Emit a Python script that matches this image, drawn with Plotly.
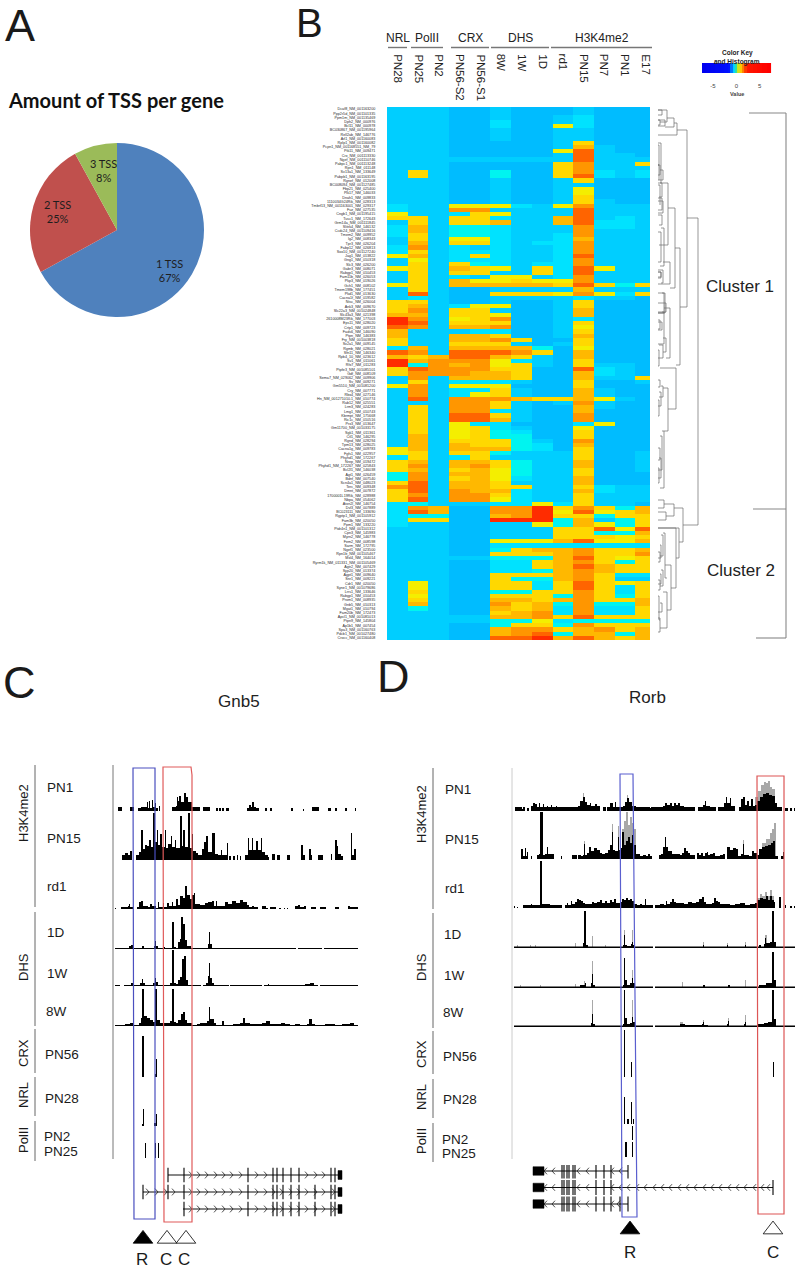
"""Four panel TSS figure: pie, clustered heatmap and two genome browser views."""

import plotly.graph_objects as go

W, H = 798, 1268
FONT = "Liberation Sans"

# Panel A
PIE_LABELS = ["1 TSS", "2 TSS", "3 TSS"]
PIE_VALUES = [67, 25, 8]
PIE_COLORS = ["#4F81BD", "#C0504D", "#9BBB59"]

# Panel B, heatmap levels, one string per row, one digit per column
HEAT_COLUMNS = ["PN28", "PN25", "PN2", "PN56-S2", "PN56-S1", "8W", "1W", "1D",
                "rd1", "PN15", "PN7", "PN1", "E17"]
HEAT_GROUPS = ["NRL", "PolII", "CRX", "DHS", "H3K4me2"]
HEAT_ROWS = [
    "1110010001000", "1110010001000", "1110010012000", "1110020012000", "1110020042000",
    "1110010011000", "1110010011000", "1110010011000", "1110000015000", "1110000016100",
    "1110000048100", "1110000018110", "1111111118111", "1110000057115", "1110000057111",
    "1510030057212", "1510030058212", "1110010015000", "1110010011000", "1110010014000",
    "1110010014000", "1110010015000", "1110010015100", "2114442147111", "2117711118111",
    "4112541118111", "5515521168121", "1515561168221", "2613321117221", "2613321117111",
    "2513321127111", "1514421126111", "1615521227111", "2712121127111", "2512221127111",
    "4612521128111", "1412221127111", "1515321227111", "4516541528411", "1515511528111",
    "1512144127111", "1516445447111", "4516666658535", "1510011116111", "1810055547425",
    "1210011112110", "5510010015000", "5612440015000", "5715510016000", "6615540016000",
    "9714570012000", "9815550015000", "8716670014000", "6111220015000", "6116650016000",
    "5116675005000", "5115551015000", "2616666304000", "8718887506000", "6568865106000",
    "9677742105000", "9376745105110", "5877755008210", "5777665006210", "1716665006115",
    "1512221005001", "4714440005000", "1712251006100", "1712451006100", "1817776556410",
    "1117751017100", "1517751006100", "1517721006000", "1518851007000", "1518861007000",
    "1514220002400", "1514521004000", "1514532005000", "1614533005000", "1615553107000",
    "1616553206000", "4616663205000", "4515531115001", "2512511115001", "5616653116001",
    "5716753116001", "5615643115001", "3716643115000", "3715642116000", "5816651116000",
    "7816655115211", "5817662116211", "5717752115111", "5817742115111", "2311122425110",
    "2760077957536", "2860077948456", "2330067955355", "2550099936135", "2110011436435",
    "1110011155848", "1110011155336", "1110011155545", "1110044468446", "1110022222222",
    "1110035667556", "1110055567557", "1111133368545", "1110022567535", "1110022568655",
    "1110022367655", "1110055567522", "1110053367511", "1410055258545", "1410055258525",
    "1510033557525", "1410055537535", "1510066567556", "1610075637336", "1310065627225",
    "1110056727225", "1111166758555", "1111133423333", "1110035537555", "1110067756756",
    "1110067836636", "1110088968656",
]
HEAT_COLORS = ["#00BCFF", "#00CEFF", "#00E2FF", "#00F4F0", "#F4EE00",
               "#FFD800", "#FFB800", "#FF9600", "#FF6400", "#FF2C00"]
GENE_LABELS = [
    "Dcaf8_NM_001163200", "Ppp2r5d_NM_001101335", "Ppm1m_NM_001135469", "Dph2_NM_000976", "Bcl11_NM_000978",
    "BC030867_NM_001195964", "Rell2ab_NM_146776", "Arl1_NM_001160083", "Rplp1_NM_001160082", "Pcpn1_NM_001168551_NM_79",
    "Ptk11_NM_009471", "Crx_NM_001113330", "Ngef_NM_001110746", "Pabpc1_NM_001113248", "Rpn1_NM_011148",
    "Sv13a1_NM_133649", "Pabpb1_NM_001163195", "Rgnef_NM_012008", "BC008094_NM_001127485", "Fbp21_NM_025400",
    "Plk17_NM_146033", "Dnah1_NM_009833", "1110034G24Rik_NM_028313", "Tmbrf13_NM_001163001_NM_029317", "Fuz_NM_027535",
    "Cngb1_NM_001195415", "Tusc1_NM_172643", "Grm14a_NM_001111845", "Slitrk4_NM_146132", "Ccdc24_NM_001109416",
    "Tmem2_NM_009952", "Ig2_NM_008343", "Tpr3_NM_026204", "Fabp12_NM_026813", "Sox10_NM_001127240",
    "Jag1_NM_013822", "Gng1_NM_010318", "Slc3_NM_026200", "Gabr3_NM_008071", "Rabgp1_NM_010453",
    "Fam11b_NM_026053", "Pkp3_NM_019026", "Gch1_NM_008102", "Tmem198b_NM_177451", "Pkd1_NM_013630",
    "Cacna1f_NM_019582", "Ntsc_NM_026004", "Ank3_NM_009670", "Slc22a3_NM_001024848", "Slc43a3_NM_021398",
    "2610008M23Rik_NM_177003", "Eps11_NM_028020", "Crtp1_NM_009723", "Fads6_NM_146090", "Ptpn_NM_146383",
    "Fry_NM_001003818", "Sv2a1_NM_009145", "Rgmb_NM_028021", "Sfn11_NM_146340", "Rpb4_10_NM_023612",
    "Sv1_NM_011061", "Rfx7_NM_011283", "Ptpfe3_NM_001085101", "Gdf_NM_008109", "Sema7_NM_029062_NM_009906",
    "Sv_NM_009271", "Gm5510_NM_001081200", "Cry_NM_007771", "Rbx4_NM_027146", "Hn_NM_001271010.1_NM_010774",
    "Rab12_NM_025551", "Lrm3_NM_024283", "Lmg1_NM_010743", "Kbrmpt_NM_175668", "Ric1c_NM_010516",
    "Prx3_NM_013647", "Gm11700_NM_001033175", "Sgk1_NM_011361", "Ctl1_NM_146295", "Rgnd_NM_028294",
    "Tpm13_NM_028025", "Cacna1g_NM_009783", "Fgfs1_NM_022957", "Phyhd1_NM_172267", "Nrep_NM_019472",
    "Phyhd1_NM_172267_NM_025843", "Bcl2l1_NM_146038", "Agt1_NM_026459", "Bdnf_NM_007540", "Scn4a1_NM_048023",
    "Terc_NM_009348", "Dmnt_NM_007872", "1700001L19Rik_NM_028988", "Nbpa_NM_054062", "Atxn2l_NM_146754",
    "Dvl3_NM_007889", "BC023111_NM_133690", "Rgptp1_NM_001105912", "Fam3b_NM_020050", "Ppm1_NM_133220",
    "Ptdr4n1_NM_001101312", "Cpn3_NM_145983", "Myrn2_NM_146778", "Fem2_NM_008598", "Sarm_NM_172795",
    "Ngef1_NM_023500", "Rpn1b_NM_001105467", "Mxl4_NM_164014", "Ryrm1k_NM_011331_NM_001105469", "Agtr2_NM_007429",
    "Syp20_NM_013374", "Agpt1_NM_009640", "Snr1_NM_009221", "Cdr1_NM_020050", "Syne1_NM_001079686",
    "Lrrs1_NM_133646", "Rabgp1_NM_010453", "Prom1_NM_008935", "Gnb5_NM_010313", "Mgat1_NM_010794",
    "Fam20b_NM_172473", "Apcl1_NM_001081013", "Ptpn9_NM_145804", "Ap1b1_NM_007454", "Spa3_NM_001160763",
    "Pdcb1_NM_001027480", "Crocc_NM_001160408",
]
GROUP_LINE_EDGES = [(388, 407), (411, 443), (451, 489), (491, 549), (551, 652)]

# Colour key
KEY_VALUES = [-7, -6, -5, -4, -3, -2, -1.5, -1, -0.5, 0, 0.5, 1, 1.5, 2, 2.5, 3, 4, 5, 6, 7]
KEY_SCALE = [[0, "#0000F0"], [0.39, "#0010FF"], [0.43, "#0078FF"], [0.465, "#00D8FF"],
             [0.5, "#30E0A0"], [0.53, "#C8E820"], [0.57, "#FFC800"], [0.61, "#FF7800"],
             [0.66, "#FF1800"], [1, "#FF0000"]]

# Dendrogram brackets: bar position, span, child ends
DEND_BAR = [698, 687, 680, 675, 677, 674, 667, 665, 668, 661, 659, 660, 662, 670, 663, 661, 664, 666, 660, 670,
            664, 662, 666, 663, 659, 676, 668, 664, 662, 660, 661, 659, 663, 661, 659,
            683, 674, 664, 666, 679, 676, 671, 665, 667, 663, 661, 660, 663, 661, 660, 659, 662, 660,
            662, 660, 659, 660, 663, 662, 663, 662, 664, 661, 661, 665, 660]
DEND_TOP = [218, 130, 248, 208, 123, 118, 110, 120, 183, 143, 165, 185, 198, 262, 270, 272, 293, 303, 320, 308,
            312, 322, 338, 345, 350, 368, 388, 431, 436, 448, 458, 468, 386, 392, 400,
            508, 504, 500, 512, 528, 528, 565, 533, 592, 535, 545, 552, 570, 574, 580, 596, 603, 618,
            110, 120, 145, 165, 170, 183, 201, 215, 228, 232, 272, 293, 380]
DEND_BOT = [525, 307, 365, 288, 135, 127, 122, 126, 245, 183, 180, 205, 210, 284, 283, 278, 313, 312, 329, 358,
            344, 330, 352, 358, 366, 409, 431, 488, 470, 460, 478, 483, 397, 406, 416,
            542, 516, 508, 520, 558, 588, 610, 578, 628, 556, 558, 562, 586, 584, 590, 620, 612, 632,
            115, 125, 165, 175, 180, 197, 213, 225, 266, 262, 277, 313, 387]
DEND_CHILD_TOP = [687, 677, 675, 668, 674, 667, 658, 658, 661, 658, 658, 658, 658, 663, 658, 658, 658, 658, 658, 664,
                  662, 658, 663, 659, 658, 660, 663, 662, 660, 658, 659, 658, 661, 659, 658,
                  674, 664, 658, 658, 658, 658, 665, 663, 663, 661, 660, 658, 661, 660, 658, 658, 660, 658,
                  658, 658, 658, 658, 660, 658, 658, 658, 661, 658, 658, 662, 658]
DEND_CHILD_BOT = [683, 680, 676, 670, 658, 665, 660, 658, 659, 660, 659, 660, 658, 658, 661, 658, 658, 658, 658, 666,
                  658, 658, 663, 658, 658, 668, 664, 660, 658, 658, 658, 658, 659, 658, 658,
                  679, 666, 658, 658, 676, 671, 667, 667, 660, 660, 658, 658, 660, 658, 658, 660, 658, 658,
                  658, 658, 658, 658, 658, 659, 658, 659, 660, 658, 658, 658, 658]

# Panel C tracks: breakpoints along the gene and signal height from each one on
C_PN1_X = [118, 122, 130, 134, 138, 141, 146, 147, 148, 149, 150, 152, 153, 155, 156, 158, 159, 160,
           172, 176, 177, 178, 179, 181, 184, 186, 188, 192, 200, 203, 210, 216, 218, 219, 221, 222, 224, 226, 229,
           247, 249, 251, 252, 254, 256, 259, 265, 267, 270, 272, 291, 293, 303, 304, 312, 319, 328, 331, 335, 337,
           345, 347, 355, 356]
C_PN1_H = [4, 0, 4, 0, 3, 4, 4, 9, 3, 10, 3, 11, 4, 8, 3, 0, 5, 0,
           4, 5, 14, 10, 15, 9, 18, 14, 9, 4, 0, 4, 0, 3, 0, 3, 0, 3, 0, 3, 0,
           3, 6, 4, 9, 4, 3, 0, 3, 0, 3, 0, 3, 0, 2, 0, 4, 0, 3, 0, 3, 0,
           3, 0, 3, 0]
C_PN15_X = [122, 125, 128, 130, 132, 136, 139, 141, 143, 145, 147, 149, 151, 153, 155, 157, 158, 160, 162, 165, 166,
            168, 171, 172, 175, 176, 180, 182, 183, 185, 188, 190, 192, 193, 196, 198, 202, 204, 206, 208, 212, 215,
            218, 221, 222, 226, 227, 228, 229, 231, 233, 235, 237, 238, 240, 241, 245, 248, 249, 252, 253, 256, 258,
            261, 262, 265, 268, 269, 272, 275, 277, 280, 287, 290, 301, 303, 305, 309, 311, 312, 318, 323, 331, 332,
            335, 337, 338, 341, 343, 351, 352, 354, 356]
C_PN15_H = [5, 7, 5, 9, 0, 5, 8, 30, 11, 15, 14, 20, 13, 47, 18, 30, 15, 26, 13, 30, 12,
            16, 24, 13, 20, 12, 44, 14, 30, 13, 47, 12, 26, 9, 7, 5, 11, 18, 24, 8, 27, 6,
            5, 10, 5, 5, 17, 0, 4, 0, 4, 0, 5, 0, 4, 0, 5, 22, 10, 22, 10, 19, 10,
            22, 8, 5, 3, 0, 6, 0, 5, 0, 5, 0, 15, 5, 0, 11, 5, 0, 5, 0, 6, 0,
            20, 14, 6, 4, 0, 27, 5, 11, 0]
C_RD1_X = [115, 116, 121, 128, 129, 130, 133, 137, 139, 141, 143, 148, 150, 152, 156, 158, 159, 163, 164, 167, 169,
           172, 173, 176, 178, 180, 183, 185, 187, 190, 192, 194, 195, 200, 205, 208, 212, 214, 216, 217, 225, 228,
           232, 236, 240, 243, 247, 249, 252, 254, 258, 262, 266, 268, 270, 276, 279, 281, 284, 285, 287, 288, 295,
           298, 300, 304, 306, 311, 316, 320, 326, 335, 339, 348, 350, 358]
C_RD1_H = [1, 0, 2, 3, 5, 2, 0, 2, 7, 8, 3, 2, 5, 3, 1, 7, 2, 6, 2, 6, 3,
           7, 3, 10, 4, 13, 11, 23, 14, 10, 14, 16, 5, 4, 6, 7, 8, 3, 8, 3, 7, 5,
           8, 6, 9, 7, 4, 2, 3, 2, 0, 3, 1, 0, 2, 0, 1, 0, 1, 0, 1, 0, 3,
           4, 2, 3, 0, 2, 0, 2, 0, 2, 0, 3, 2, 0]
C_1D_X = [115, 129, 131, 133, 142, 144, 154, 155, 156, 158, 163, 165, 172, 174, 176, 178, 180, 181, 183, 185, 187,
          191, 208, 209, 210, 212, 296, 298, 322, 324, 358]
C_1D_H = [1, 3, 4, 1, 3, 1, 3, 8, 3, 1, 2, 1, 27, 2, 1, 7, 10, 32, 25, 9, 3,
          1, 5, 17, 5, 1, 0, 1, 0, 1, 0]
C_1W_X = [115, 120, 124, 131, 133, 140, 142, 143, 145, 153, 155, 156, 158, 170, 172, 174, 176, 178, 180, 182, 184,
          186, 188, 201, 203, 206, 208, 209, 210, 212, 214, 229, 230, 262, 264, 268, 269, 305, 310, 314, 318, 320, 358]
C_1W_H = [1, 0, 1, 3, 1, 3, 7, 3, 1, 3, 8, 4, 1, 3, 36, 3, 2, 6, 9, 27, 30,
          6, 1, 0, 1, 3, 10, 23, 8, 3, 1, 0, 1, 0, 1, 2, 1, 2, 3, 1, 0, 1, 0]
C_8W_X = [115, 125, 130, 133, 139, 141, 142, 144, 147, 150, 153, 155, 157, 160, 166, 170, 172, 174, 176, 178, 181,
          183, 185, 187, 192, 197, 200, 205, 207, 209, 210, 214, 216, 222, 224, 230, 233, 240, 243, 245, 250, 262,
          266, 270, 280, 281, 285, 290, 295, 300, 307, 309, 312, 315, 325, 335, 342, 350, 354, 358]
C_8W_H = [1, 2, 3, 1, 3, 8, 37, 10, 8, 6, 4, 37, 6, 3, 3, 5, 37, 4, 3, 6, 12,
          14, 6, 3, 1, 2, 3, 3, 5, 19, 7, 3, 1, 5, 1, 1, 2, 3, 8, 3, 2, 3,
          5, 2, 2, 3, 2, 1, 2, 1, 2, 7, 2, 1, 2, 1, 2, 3, 1, 0]
C_CRX_X = [142, 144, 155, 156, 157]
C_CRX_H = [41, 0, 3, 18, 0]
C_NRL_X = [142, 143, 144, 154, 156, 157]
C_NRL_H = [2, 17, 0, 3, 12, 0]
C_POL_X = [145, 146, 155, 156, 158, 159]
C_POL_H = [15, 0, 15, 0, 15, 0]

# Panel D tracks, black signal and the paler tips above it
D_PN1_X = [515, 522, 523, 525, 527, 529, 531, 533, 535, 537, 539, 540, 543, 544, 547, 548, 551, 552, 556, 557, 562,
           576, 578, 580, 583, 585, 587, 590, 591, 595, 597, 600, 603, 606, 607, 610, 613, 615, 616, 623, 625, 627,
           629, 632, 636, 650, 651, 663, 665, 667, 670, 672, 674, 676, 678, 680, 684, 695, 698, 703, 705, 706, 710,
           716, 718, 722, 724, 726, 727, 730, 731, 735, 739, 741, 743, 745, 747, 749, 751, 753, 755, 757, 760, 763,
           766, 769, 772, 775, 777, 782, 785, 788, 790, 792, 794, 795]
D_PN1_H = [4, 2, 4, 0, 3, 0, 5, 8, 7, 4, 8, 4, 7, 4, 5, 4, 6, 4, 5, 4, 4,
           4, 5, 10, 14, 9, 6, 8, 5, 7, 5, 0, 4, 0, 4, 8, 4, 9, 4, 5, 9, 13,
           9, 5, 4, 3, 4, 5, 8, 6, 8, 5, 8, 6, 8, 5, 4, 0, 4, 6, 10, 5, 4,
           0, 4, 4, 8, 14, 8, 13, 5, 0, 4, 12, 14, 6, 10, 5, 12, 5, 6, 10, 14, 17,
           18, 16, 15, 8, 4, 0, 3, 0, 3, 0, 3, 0]
D_PN1_TIP_X = [583, 584, 627, 628, 755, 758, 761, 764, 766, 768, 770, 772, 775]
D_PN1_TIP_H = [18, 0, 16, 0, 14, 20, 26, 29, 28, 30, 24, 22, 0]
D_PN15_X = [521, 523, 525, 526, 527, 528, 531, 532, 537, 539, 540, 542, 543, 545, 547, 548, 551, 554, 561, 562, 572,
            577, 578, 581, 583, 584, 585, 587, 589, 591, 594, 597, 600, 602, 605, 608, 610, 612, 613, 615, 618, 619,
            621, 622, 624, 626, 628, 630, 632, 634, 636, 640, 643, 646, 648, 650, 652, 659, 661, 663, 665, 666, 668,
            672, 676, 680, 682, 684, 686, 688, 690, 693, 695, 697, 699, 701, 703, 705, 707, 708, 710, 713, 715, 720,
            723, 725, 727, 730, 733, 736, 738, 741, 743, 744, 749, 752, 754, 757, 759, 762, 765, 768, 771, 773, 775,
            778, 781, 783, 784]
D_PN15_H = [10, 3, 11, 3, 7, 0, 3, 0, 4, 5, 47, 47, 4, 5, 12, 5, 5, 0, 3, 0, 4,
            0, 4, 3, 4, 15, 4, 6, 12, 8, 11, 9, 6, 5, 6, 9, 14, 27, 9, 8, 22, 9,
            11, 27, 14, 18, 22, 16, 24, 14, 5, 3, 4, 3, 5, 3, 0, 4, 5, 12, 22, 12, 8,
            5, 5, 4, 6, 11, 8, 6, 4, 4, 0, 6, 4, 6, 3, 6, 7, 4, 5, 6, 3, 4,
            5, 0, 12, 9, 11, 10, 3, 5, 15, 4, 3, 8, 6, 4, 10, 12, 13, 14, 16, 18, 3,
            0, 3, 7, 0]
D_PN15_TIP_X = [584, 585, 612, 613, 618, 619, 622, 624, 626, 628, 630, 632, 634, 636, 743, 744, 762, 766, 770, 772, 774, 776]
D_PN15_TIP_H = [18, 0, 35, 0, 33, 0, 30, 38, 47, 34, 42, 36, 30, 0, 19, 0, 16, 20, 26, 30, 36, 0]
D_RD1_X = [514, 515, 517, 518, 523, 531, 532, 540, 542, 550, 562, 565, 567, 568, 571, 572, 575, 577, 579, 581, 583,
           585, 590, 592, 594, 597, 600, 602, 605, 607, 610, 612, 614, 616, 620, 622, 624, 626, 628, 630, 632, 634,
           637, 640, 642, 645, 646, 650, 653, 655, 660, 664, 666, 667, 670, 672, 674, 676, 680, 684, 688, 692, 696,
           699, 702, 704, 706, 712, 714, 716, 718, 720, 725, 730, 735, 740, 745, 750, 755, 757, 760, 763, 766, 768,
           770, 772, 774, 775, 779, 781, 785, 786, 790, 792, 794, 795]
D_RD1_H = [2, 0, 1, 0, 3, 4, 3, 47, 4, 3, 0, 3, 5, 3, 7, 4, 6, 9, 8, 7, 5,
           4, 4, 6, 5, 6, 8, 5, 7, 5, 8, 6, 9, 5, 6, 9, 8, 10, 8, 9, 7, 4,
           3, 4, 3, 9, 3, 3, 0, 3, 4, 3, 7, 4, 6, 9, 6, 5, 5, 4, 6, 5, 6,
           9, 11, 6, 4, 5, 10, 7, 6, 4, 4, 3, 4, 5, 3, 4, 5, 8, 10, 9, 12, 8,
           12, 8, 6, 0, 11, 0, 3, 0, 2, 0, 2, 0]
D_RD1_TIP_X = [757, 760, 762, 765, 767, 770, 772, 774]
D_RD1_TIP_H = [10, 14, 12, 16, 12, 18, 12, 0]
D_1D_X = [514, 583, 584, 586, 588, 623, 624, 625, 627, 631, 632, 633, 635, 653, 655, 703, 704, 727, 728, 745, 746,
          759, 761, 764, 765, 766, 770, 772, 774, 776, 795]
D_1D_H = [1.5, 5, 37, 3, 1.5, 3, 13, 3, 2, 4, 6, 3, 1.5, 0, 1.5, 3, 1.5, 3, 1.5, 3, 1.5,
          3, 1.5, 4, 10, 5, 6, 37, 6, 1.5, 0]
D_1D_TIP_X = [517, 518, 530, 531, 535, 536, 575, 576, 592, 593, 605, 606, 624, 625, 632, 633, 703, 704, 727, 728, 745, 746, 765, 767]
D_1D_TIP_H = [3, 0, 3, 0, 3, 0, 5, 0, 12, 0, 3, 0, 18, 0, 18, 0, 6, 0, 5, 0, 6, 0, 13, 0]
D_1W_X = [514, 580, 585, 586, 591, 592, 593, 595, 623, 624, 625, 627, 630, 632, 633, 635, 653, 655, 703, 705, 728,
          730, 759, 763, 766, 770, 772, 774, 776, 795]
D_1W_H = [1.5, 3, 5, 1.5, 5, 14, 3, 1.5, 3, 30, 8, 3, 5, 10, 5, 1.5, 0, 1.5, 3, 1.5, 3,
          1.5, 3, 3, 5, 5, 36, 8, 1.5, 0]
D_1W_TIP_X = [520, 521, 540, 541, 575, 576, 584, 585, 592, 593, 632, 633, 682, 683, 745, 746]
D_1W_TIP_H = [3, 0, 3, 0, 4, 0, 7, 0, 27, 0, 18, 0, 6, 0, 8, 0]
D_8W_X = [514, 591, 592, 593, 595, 623, 624, 625, 627, 630, 632, 633, 635, 653, 655, 680, 685, 702, 703, 704, 708,
          727, 728, 729, 744, 745, 746, 757, 760, 764, 768, 772, 774, 776, 795]
D_8W_H = [1.5, 4, 13, 3, 1.5, 3, 37, 9, 3, 4, 10, 5, 1.5, 0, 1.5, 3, 2, 3, 5, 2, 1.5,
          3, 6, 1.5, 3, 5, 1.5, 3, 3, 4, 5, 37, 8, 1.5, 0]
D_8W_TIP_X = [592, 593, 632, 633, 680, 683, 703, 704, 728, 729, 745, 746]
D_8W_TIP_H = [27, 0, 27, 0, 5, 0, 7, 0, 9, 0, 12, 0]
D_CRX_X = [624, 625, 631, 632, 773, 774]
D_CRX_H = [47, 0, 15, 0, 15, 0]
D_NRL_X = [624, 625, 627, 629, 631, 632, 633, 634]
D_NRL_H = [27, 0, 5, 0, 22, 0, 5, 0]
D_PN2_X = [632, 633]
D_PN2_H = [14, 0]
D_PN25_X = [625, 627, 632, 633]
D_PN25_H = [15, 0, 15, 0]

# Gene models, one entry per isoform
C_GENE_START = [168, 143, 183]
C_GENE_END = [341, 341, 341]
C_GENE_EXONS = [[168, 184, 248, 273, 277, 283, 291, 299, 331, 335],
                [143, 168, 184, 248, 273, 277, 283, 291, 299, 315, 331, 335],
                [184, 248, 273, 277, 283, 291, 299, 315, 331, 335]]
C_GENE_CHEVRONS = [[191, 199, 207, 216, 224, 232, 241, 257, 266, 307, 316, 324],
                   [148, 157, 166, 174, 191, 199, 207, 216, 224, 232, 241, 257, 266, 274, 282, 291, 299, 307, 316, 324, 334],
                   [191, 199, 207, 216, 224, 232, 241, 257, 266, 274, 282, 291, 299, 307, 316, 324, 334]]
D_GENE_START = [544, 544, 544]
D_GENE_END = [628, 773, 628]
D_GENE_EXONS = [[562, 564, 567, 569, 573, 575, 596, 604, 611, 628],
                [562, 564, 567, 569, 573, 575, 596, 604, 611, 773],
                [562, 564, 567, 569, 573, 575, 596, 604, 611, 620, 628]]
D_GENE_CHEVRONS = [[545, 553, 578, 587, 612, 620],
                   [545, 553, 578, 587, 612, 620, 628, 637, 645, 654, 662, 670, 679, 687, 695, 704, 712, 720, 729, 737, 745, 754, 762, 768],
                   [545, 553, 578, 587, 612, 618]]
C_UTR = (338, 342)
D_UTR = (533, 544)
C_TRIANGLES_X = [143, 167, 186]
C_TRIANGLES_FILL = ["black", "white", "white"]
D_TRIANGLES_X = [630, 773]
D_TRIANGLES_FILL = ["black", "white"]


def px_x(x):
    return x / W


def px_y(y):
    return 1 - y / H


def add_text(fig, x, y, text, size=13, angle=0, anchor="center", yanchor="middle", color="#1a1a1a", family=FONT):
    """Place a label by its pixel position on the page."""
    fig.add_annotation(
        x=px_x(x), y=px_y(y), xref="paper", yref="paper", text=text, showarrow=False,
        textangle=angle, xanchor=anchor, yanchor=yanchor, font=dict(family=family, size=size, color=color),
    )


def add_rule(fig, x0, y0, x1, y1, color="#555555", width=1):
    fig.add_shape(type="line", xref="paper", yref="paper", x0=px_x(x0), y0=px_y(y0), x1=px_x(x1), y1=px_y(y1),
                  line=dict(color=color, width=width))


def add_outline(fig, points, color, width=1.2):
    path = "M " + " L ".join(f"{px_x(x):.5f},{px_y(y):.5f}" for x, y in points) + " Z"
    fig.add_shape(type="path", xref="paper", yref="paper", path=path, line=dict(color=color, width=width))


layout_axes = {}
next_axis = [5]


def new_track_axis(x_name, top, baseline):
    """One y axis per browser track, counted in pixels of signal height."""
    n = next_axis[0]
    next_axis[0] += 1
    layout_axes[f"yaxis{n}"] = dict(domain=[px_y(baseline), px_y(top)], range=[0, baseline - top], visible=False,
                                    anchor=x_name, fixedrange=True)
    return f"y{n}"


def add_track(fig, x_name, baseline, height, xs, hs, tip_xs=None, tip_hs=None, color="black"):
    y_name = new_track_axis(x_name, baseline - height, baseline)
    if tip_xs:
        fig.add_trace(go.Scatter(x=tip_xs, y=tip_hs, xaxis=x_name, yaxis=y_name, mode="lines",
                                 line=dict(shape="hv", width=0, color="#9a9a9a"), fill="tozeroy",
                                 fillcolor="#a8a8a8", hoverinfo="skip"))
    fig.add_trace(go.Scatter(x=xs, y=hs, xaxis=x_name, yaxis=y_name, mode="lines",
                             line=dict(shape="hv", width=0, color=color), fill="tozeroy",
                             fillcolor=color, hoverinfo="skip"))


def add_gene_models(fig, x_name, y_name, starts, ends, exons, chevrons, utr, exon_half, chevron_dir):
    line_x, line_y, exon_x, exon_y, chev_x, chev_y = [], [], [], [], [], []
    utr_x, utr_y = [], []
    for row in range(len(starts)):
        line_x += [starts[row], ends[row], None]
        line_y += [row, row, None]
        for pos in exons[row]:
            exon_x += [pos, pos, None]
            exon_y += [row - exon_half, row + exon_half, None]
        for pos in chevrons[row]:
            chev_x += [pos - 2 * chevron_dir, pos + chevron_dir, pos - 2 * chevron_dir, None]
            chev_y += [row - 0.2, row, row + 0.2, None]
        utr_x += [utr[0], utr[0], utr[1], utr[1], utr[0], None]
        utr_y += [row - 0.26, row + 0.26, row + 0.26, row - 0.26, row - 0.26, None]
    fig.add_trace(go.Scatter(x=line_x, y=line_y, xaxis=x_name, yaxis=y_name, mode="lines",
                             line=dict(color="#111111", width=1.2), hoverinfo="skip"))
    fig.add_trace(go.Scatter(x=exon_x, y=exon_y, xaxis=x_name, yaxis=y_name, mode="lines",
                             line=dict(color="black", width=1.1), hoverinfo="skip"))
    fig.add_trace(go.Scatter(x=chev_x, y=chev_y, xaxis=x_name, yaxis=y_name, mode="lines",
                             line=dict(color="#222222", width=0.8), hoverinfo="skip"))
    fig.add_trace(go.Scatter(x=utr_x, y=utr_y, xaxis=x_name, yaxis=y_name, mode="lines", fill="toself",
                             fillcolor="black", line=dict(color="black", width=0.5), hoverinfo="skip"))


fig = go.Figure()

# A: pie
add_text(fig, 3, 26, "A", size=45, anchor="left")
add_text(fig, 6, 100, "<b>Amount of TSS per gene</b>", size=20, anchor="left", color="#111111", family="Lato")
fig.add_trace(go.Pie(
    labels=PIE_LABELS, values=PIE_VALUES, sort=False, direction="clockwise", rotation=0, textinfo="none",
    marker=dict(colors=PIE_COLORS, line=dict(width=0)), domain=dict(x=[px_x(30), px_x(204)], y=[px_y(317), px_y(143)]),
    showlegend=False, hoverinfo="skip",
))
for label, value, (lx, ly) in zip(PIE_LABELS, PIE_VALUES, [(169, 270), (57, 212), (103, 170)]):
    add_text(fig, lx, ly, f"{label}<br>{value}%", size=11, color="#1e1e1e", family="Lato")

# B: heatmap, dendrogram and key
add_text(fig, 294, 23.5, "B", size=40, anchor="left")
heat_z = [[int(d) for d in row] for row in HEAT_ROWS]
n_levels = len(HEAT_COLORS) - 1
fig.add_trace(go.Heatmap(
    z=heat_z, x=list(range(len(HEAT_COLUMNS))), y=list(range(len(HEAT_ROWS))), zmin=0, zmax=n_levels,
    colorscale=[[i / n_levels, c] for i, c in enumerate(HEAT_COLORS)], showscale=False, hoverinfo="skip",
    xaxis="x", yaxis="y",
))
layout_axes["xaxis"] = dict(domain=[px_x(387), px_x(656)], range=[-0.5, len(HEAT_COLUMNS) - 0.5], visible=False, anchor="y")
layout_axes["yaxis"] = dict(
    domain=[px_y(640), px_y(107)], range=[len(HEAT_ROWS) - 0.5, -0.5], anchor="x", tickmode="array",
    tickvals=list(range(len(HEAT_ROWS))), ticktext=GENE_LABELS, tickfont=dict(family=FONT, size=3.7, color="#2a2a2a"),
    ticks="outside", ticklen=10, tickcolor="rgba(0,0,0,0)", showgrid=False, zeroline=False, showline=False,
)
for i, name in enumerate(HEAT_COLUMNS):
    fig.add_annotation(x=i, y=px_y(52), xref="x", yref="paper", text=name, showarrow=False, textangle=90,
                       xanchor="center", yanchor="top", font=dict(family=FONT, size=11.5, color="#222222"))
for name, (x0, x1) in zip(HEAT_GROUPS, GROUP_LINE_EDGES):
    add_text(fig, (x0 + x1) / 2, 37.5, name, size=12, color="#222222")
    add_rule(fig, x0, 47.5, x1, 47.5, color="#777777", width=1.4)

fig.add_trace(go.Heatmap(z=[KEY_VALUES], x=KEY_VALUES, y=[0], zmin=-7, zmax=7, colorscale=KEY_SCALE, showscale=False,
                         hoverinfo="skip", xaxis="x2", yaxis="y2"))
layout_axes["xaxis2"] = dict(domain=[px_x(702), px_x(772)], range=[-7.3, 7.6], anchor="y2", side="bottom",
                             tickmode="array", tickvals=[-5, 0, 5], ticktext=["-5", "0", "5"], ticks="outside",
                             ticklen=7, tickcolor="rgba(0,0,0,0)", showgrid=False, zeroline=False,
                             tickfont=dict(family=FONT, size=6, color="#444444"))
layout_axes["yaxis2"] = dict(domain=[px_y(73), px_y(63)], range=[-0.5, 0.5], visible=False, anchor="x2")
add_text(fig, 737, 53, "<b>Color Key</b>", size=6.5, color="#222222")
add_text(fig, 737, 62, "<b>and Histogram</b>", size=6.5, color="#222222")
add_text(fig, 737, 94, "<b>Value</b>", size=5.5, color="#444444")

dend_x, dend_y = [], []
for bar, top, bot, c_top, c_bot in zip(DEND_BAR, DEND_TOP, DEND_BOT, DEND_CHILD_TOP, DEND_CHILD_BOT):
    dend_x += [c_top, bar, bar, c_bot, None]
    dend_y += [top, top, bot, bot, None]
fig.add_trace(go.Scatter(x=dend_x, y=dend_y, xaxis="x3", yaxis="y3", mode="lines",
                         line=dict(color="#6a6a6a", width=0.7), hoverinfo="skip"))
layout_axes["xaxis3"] = dict(domain=[px_x(650), px_x(700)], range=[650, 700], visible=False, anchor="y3")
layout_axes["yaxis3"] = dict(domain=[px_y(640), px_y(107)], range=[640, 107], visible=False, anchor="x3")

for x0, y0, x1, y1 in [(749, 113, 786, 113), (786, 113, 786, 638), (753, 509, 786, 509), (756, 638, 786, 638)]:
    add_rule(fig, x0, y0, x1, y1, color="#888888", width=1.1)
add_text(fig, 740, 286, "Cluster 1", size=17, color="#222222")
add_text(fig, 741, 570, "Cluster 2", size=17, color="#222222")

# C and D: genome browser panels
layout_axes["xaxis4"] = dict(domain=[px_x(115), px_x(358)], range=[115, 358], visible=False, anchor="y5")
layout_axes["xaxis5"] = dict(domain=[px_x(512), px_x(796)], range=[512, 796], visible=False)

add_text(fig, 1, 682, "C", size=45, anchor="left")
add_text(fig, 375, 676, "D", size=45, anchor="left")
add_text(fig, 239, 701, "Gnb5", size=17, color="#222222")
add_text(fig, 647, 697, "Rorb", size=17, color="#222222")

add_track(fig, "x4", 811, 20, C_PN1_X, C_PN1_H)
add_track(fig, "x4", 860, 48, C_PN15_X, C_PN15_H)
add_track(fig, "x4", 909, 25, C_RD1_X, C_RD1_H)
add_track(fig, "x4", 949, 33, C_1D_X, C_1D_H)
add_track(fig, "x4", 986, 37, C_1W_X, C_1W_H)
add_track(fig, "x4", 1026, 38, C_8W_X, C_8W_H)
add_track(fig, "x4", 1077, 41, C_CRX_X, C_CRX_H)
add_track(fig, "x4", 1126, 18, C_NRL_X, C_NRL_H)
add_track(fig, "x4", 1158, 15, C_POL_X, C_POL_H)

add_track(fig, "x5", 811, 31, D_PN1_X, D_PN1_H, D_PN1_TIP_X, D_PN1_TIP_H)
add_track(fig, "x5", 859, 48, D_PN15_X, D_PN15_H, D_PN15_TIP_X, D_PN15_TIP_H)
add_track(fig, "x5", 908, 48, D_RD1_X, D_RD1_H, D_RD1_TIP_X, D_RD1_TIP_H)
add_track(fig, "x5", 948, 38, D_1D_X, D_1D_H, D_1D_TIP_X, D_1D_TIP_H)
add_track(fig, "x5", 988, 37, D_1W_X, D_1W_H, D_1W_TIP_X, D_1W_TIP_H)
add_track(fig, "x5", 1027, 38, D_8W_X, D_8W_H, D_8W_TIP_X, D_8W_TIP_H)
add_track(fig, "x5", 1077, 47, D_CRX_X, D_CRX_H)
add_track(fig, "x5", 1124, 28, D_NRL_X, D_NRL_H)
add_track(fig, "x5", 1140, 15, D_PN2_X, D_PN2_H)
add_track(fig, "x5", 1157, 15, D_PN25_X, D_PN25_H)
layout_axes["xaxis5"]["anchor"] = "y" + str(next_axis[0] - 1)

# gene rows: row 0 sits on the first isoform, rows count isoform spacing
c_row_px, c_row0 = 17, 1175
d_row_px, d_row0 = 16.5, 1171
c_gene_axis = f"y{next_axis[0]}"
layout_axes[f"yaxis{next_axis[0]}"] = dict(domain=[px_y(1268), px_y(1165)],
                                           range=[(1268 - c_row0) / c_row_px, (1165 - c_row0) / c_row_px],
                                           visible=False, anchor="x4")
next_axis[0] += 1
d_gene_axis = f"y{next_axis[0]}"
layout_axes[f"yaxis{next_axis[0]}"] = dict(domain=[px_y(1268), px_y(1165)],
                                           range=[(1268 - d_row0) / d_row_px, (1165 - d_row0) / d_row_px],
                                           visible=False, anchor="x5")
next_axis[0] += 1
add_gene_models(fig, "x4", c_gene_axis, C_GENE_START, C_GENE_END, C_GENE_EXONS, C_GENE_CHEVRONS, C_UTR, 0.42, 1)
add_gene_models(fig, "x5", d_gene_axis, D_GENE_START, D_GENE_END, D_GENE_EXONS, D_GENE_CHEVRONS, D_UTR, 0.45, -1)

fig.add_trace(go.Scatter(x=C_TRIANGLES_X, y=[3.76] * len(C_TRIANGLES_X), xaxis="x4", yaxis=c_gene_axis, mode="markers",
                         marker=dict(symbol="triangle-up", size=17, color=C_TRIANGLES_FILL, line=dict(color="black", width=0.8)),
                         hoverinfo="skip"))
fig.add_trace(go.Scatter(x=D_TRIANGLES_X, y=[3.55] * len(D_TRIANGLES_X), xaxis="x5", yaxis=d_gene_axis, mode="markers",
                         marker=dict(symbol="triangle-up", size=17, color=D_TRIANGLES_FILL, line=dict(color="black", width=0.8)),
                         hoverinfo="skip"))
for x, text in zip([142, 166, 184], ["R", "C", "C"]):
    add_text(fig, x, 1259, text, size=17)
for x, text in zip([630, 773], ["R", "C"]):
    add_text(fig, x, 1252, text, size=17)

# track group rules and labels
for (x_out, x_in, inner_color, spans) in [
    (35, 113, "#777777", [(765, 907), (912, 1026), (1029, 1073), (1077, 1116), (1121, 1161)]),
    (433, 512, "#cccccc", [(768, 909), (913, 1028), (1031, 1074), (1079, 1118), (1123, 1162)]),
]:
    for top, bot in spans:
        add_rule(fig, x_out, top, x_out, bot, color="#666666", width=1)
    add_rule(fig, x_in, spans[0][0], x_in, 1159, color=inner_color, width=1)

for text, y in zip(["H3K4me2", "DHS", "CRX", "NRL", "PolII"], [813, 967, 1053, 1095, 1140]):
    add_text(fig, 23, y, text, size=13, angle=-90)
for text, y in zip(["H3K4me2", "DHS", "CRX", "NRL", "PolII"], [814, 967, 1054, 1097, 1141]):
    add_text(fig, 421, y, text, size=13, angle=-90)
for text, x, y in [("PN1", 45, 787), ("PN15", 45, 838), ("rd1", 45, 886), ("1D", 45, 932), ("1W", 45, 973),
                   ("8W", 44, 1011), ("PN56", 43, 1054), ("PN28", 43, 1098), ("PN2", 42, 1136), ("PN25", 42, 1151)]:
    add_text(fig, x, y, text, size=13.5, anchor="left")
for text, x, y in [("PN1", 443, 789), ("PN15", 443, 839), ("rd1", 443, 888), ("1D", 442, 934), ("1W", 442, 975),
                   ("8W", 441, 1012), ("PN56", 441, 1056), ("PN28", 441, 1099), ("PN2", 440, 1139), ("PN25", 440, 1153)]:
    add_text(fig, x, y, text, size=13.5, anchor="left")

# highlight boxes
add_outline(fig, [(133, 768), (155, 768), (155, 1219), (134, 1219)], "#4A4FBF")
add_outline(fig, [(163, 767), (191, 767), (192, 775), (192, 1222), (164, 1222), (163, 775)], "#E05A5A")
add_outline(fig, [(620, 774), (633, 774), (637, 1217), (622, 1217)], "#5A5FCF")
add_outline(fig, [(757, 776), (784, 776), (784, 1214), (758, 1214)], "#DD5555")

fig.update_layout(
    width=W, height=H, margin=dict(l=0, r=0, t=0, b=0), paper_bgcolor="white", plot_bgcolor="white",
    showlegend=False, hovermode=False, **layout_axes,
)

fig.write_html("out.html", config={"displayModeBar": False}, post_script="document.body.style.margin='0';")
